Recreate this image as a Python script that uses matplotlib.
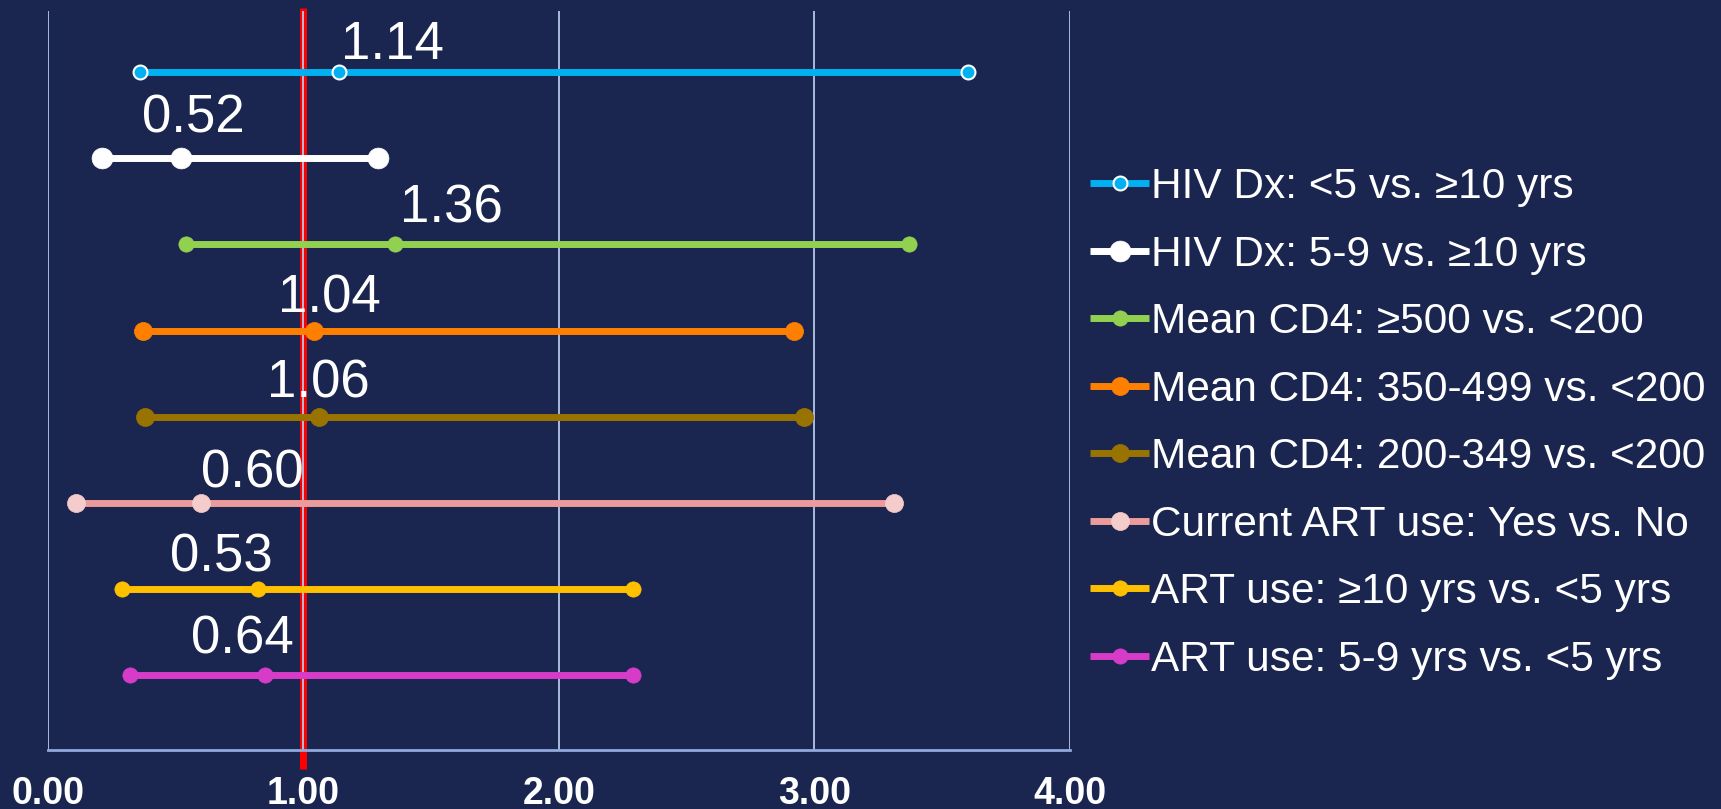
import matplotlib
matplotlib.use("Agg")
import matplotlib.pyplot as plt

# Odds ratios with 95% CI, top row first
categories = [
    "HIV Dx: <5 vs. \u226510 yrs",
    "HIV Dx: 5-9 vs. \u226510 yrs",
    "Mean CD4: \u2265500 vs. <200",
    "Mean CD4: 350-499 vs. <200",
    "Mean CD4: 200-349 vs. <200",
    "Current ART use: Yes vs. No",
    "ART use: \u226510 yrs vs. <5 yrs",
    "ART use: 5-9 yrs vs. <5 yrs",
]
lower = [0.36, 0.21, 0.54, 0.37, 0.38, 0.11, 0.29, 0.32]
estimate = [1.14, 0.52, 1.36, 1.04, 1.06, 0.60, 0.82, 0.85]
upper = [3.60, 1.29, 3.37, 2.92, 2.96, 3.31, 2.29, 2.29]
labels = ["1.14", "0.52", "1.36", "1.04", "1.06", "0.60", "0.53", "0.64"]
xticks = [0, 1, 2, 3, 4]
xticklabels = ["0.00", "1.00", "2.00", "3.00", "4.00"]

# Styling
BG = "#1a2550"
GRID = "#b4c7e7"
line_colors = ["#00b0f0", "#ffffff", "#92d050", "#ff8000",
               "#997300", "#eb9b9b", "#ffc000", "#d63cc8"]
marker_faces = ["#00b0f0", "#ffffff", "#92d050", "#ff8000",
                "#997300", "#f4cccc", "#ffc000", "#d63cc8"]
marker_edges = ["#ffffff", "#ffffff", "#92d050", "#ff8000",
                "#997300", "#f4cccc", "#ffc000", "#d63cc8"]
marker_sizes = [10, 15, 11, 13, 13, 13, 11, 11]
# offset of the value labels from their point, in data units
label_dx = [0.21, 0.05, 0.22, 0.06, 0.00, 0.20, -0.14, -0.09]
label_dy = [0.31, 0.46, 0.42, 0.37, 0.38, 0.34, 0.37, 0.41]

plt.rcParams["font.family"] = ["Liberation Sans", "DejaVu Sans"]

fig = plt.figure(figsize=(17.21, 8.09), dpi=100, facecolor=BG)
ax = fig.add_axes([0.0279, 0.0729, 0.6217 - 0.0279, 0.9864 - 0.0729])
ax.set_facecolor(BG)

n = len(categories)
ys = [n - i for i in range(n)]

# reference line at OR = 1
ax.plot([1, 1], [0.13 - 0.22, 8.75], color="#ff0000", lw=5,
        zorder=1, clip_on=False, solid_capstyle="butt")

for x in xticks:
    ax.axvline(x, color=GRID, lw=1.3, zorder=2)

handles = []
for i in range(n):
    h, = ax.plot([lower[i], estimate[i], upper[i]], [ys[i]] * 3,
                 color=line_colors[i], lw=5, marker="o",
                 markersize=marker_sizes[i], markerfacecolor=marker_faces[i],
                 markeredgecolor=marker_edges[i],
                 markeredgewidth=1.5 if i == 0 else 0.5,
                 solid_capstyle="butt", zorder=3, label=categories[i])
    handles.append(h)
    ax.text(estimate[i] + label_dx[i], ys[i] + label_dy[i], labels[i],
            color="white", fontsize=38, ha="center", va="center", zorder=4)

ax.set_xlim(0, 4)
ax.set_ylim(0.13, 8.71)
ax.set_yticks([])
ax.set_xticks(xticks)
ax.set_xticklabels(xticklabels, fontsize=27, fontweight="bold", color="white")
ax.tick_params(axis="x", length=0, pad=19)
for side in ["left", "right", "top"]:
    ax.spines[side].set_visible(False)
ax.spines["bottom"].set_color("#8faadc")
ax.spines["bottom"].set_linewidth(2)

leg = fig.legend(handles=handles, loc="upper left",
                 bbox_to_anchor=(1090 / 1721, 1 - 167 / 809),
                 frameon=False, fontsize=30.5, numpoints=1,
                 handlelength=1.4, handletextpad=0.05,
                 labelspacing=0.65, borderpad=0, borderaxespad=0)
for t in leg.get_texts():
    t.set_color("white")

fig.savefig("out.png", dpi=100, facecolor=BG)
